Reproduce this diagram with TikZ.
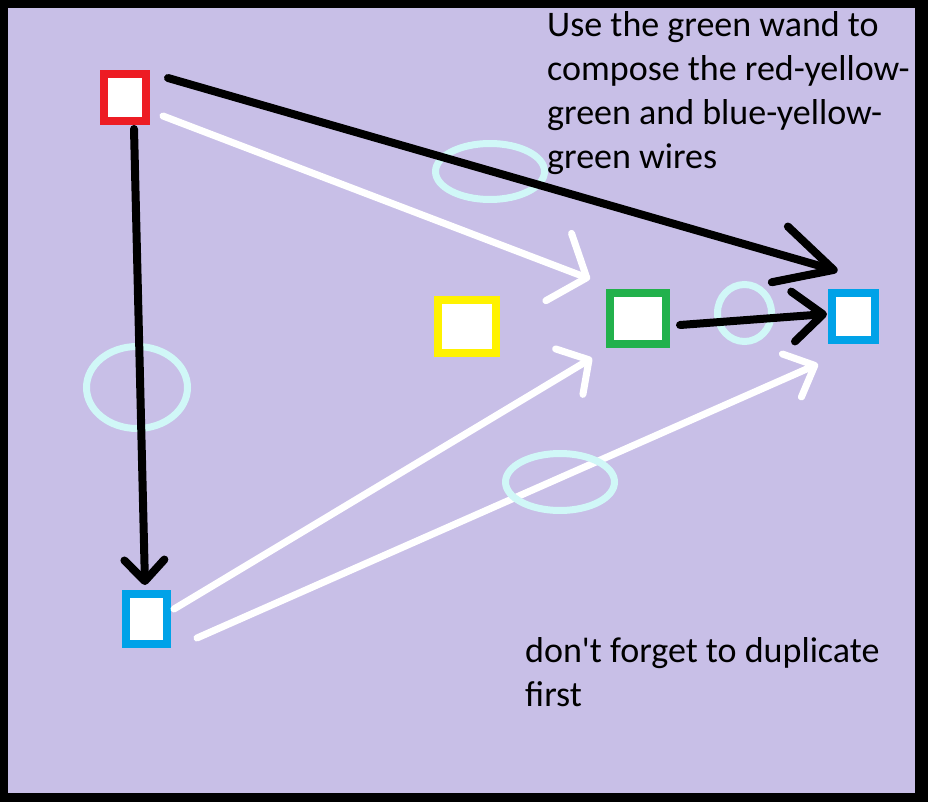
\documentclass[tikz,border=0pt]{standalone}
\usepackage{fontspec}
\setmainfont[Ligatures=TeXOff]{Carlito}
\usetikzlibrary{arrows.meta,positioning}
\definecolor{paintlavender}{HTML}{C8BFE7}
\definecolor{paintred}{HTML}{ED1C24}
\definecolor{paintyellow}{HTML}{FFF200}
\definecolor{paintgreen}{HTML}{22B14C}
\definecolor{paintblue}{HTML}{00A2E8}
\definecolor{paintring}{HTML}{D0F7F7}
\tikzset{
    mybox/.style={rectangle, draw, fill=white, line width=8pt, inner sep=0pt, outer sep=0pt},
    blackwire/.style={draw=black, line width=8pt, line cap=round, line join=round},
    whitewire/.style={draw=white, line width=7pt, line cap=round, line join=round},
    myring/.style={draw=paintring, line width=7pt},
    mylabel/.style={anchor=base west, inner sep=0pt, align=left, font=\fontsize{36}{44}\selectfont}
}

\begin{document}
\begin{tikzpicture}[x=1pt, y=-1pt]
% frame
\fill[black] (0,0) rectangle (928,802);
\fill[paintlavender] (8,8) rectangle (915,793);

% boxes
\node[mybox, draw=paintred, minimum width=42pt, minimum height=47pt] (red) at (125,97.5) {};
\node[mybox, draw=paintyellow, minimum width=58pt, minimum height=53pt] (yellow) at (467,326.5) {};
\node[mybox, draw=paintgreen, minimum width=56pt, minimum height=51pt] (green) at (638,318.5) {};
\node[mybox, draw=paintblue, minimum width=43pt, minimum height=47pt] (blueright) at (853.5,316.5) {};
\node[mybox, draw=paintblue, minimum width=41pt, minimum height=50pt] (bluebottom) at (146.5,619) {};

% white wires
\draw[whitewire, -{Straight Barb[length=30pt, width=72pt, round]}] ([shift={(17,18.5)}]red.east) -- ([shift={(-20,-14)}]green.north west);
\draw[whitewire, -{Straight Barb[length=23pt, width=53pt, round]}] ([shift={(7,-10)}]bluebottom.east) -- ([shift={(-18,14)}]green.south west);
\draw[whitewire, -{Straight Barb[length=25pt, width=47pt, round]}] ([shift={(30,19)}]bluebottom.east) -- ([shift={(-14,24)}]blueright.south west);

% rings
\draw[myring] (490,171.5) ellipse [x radius=54.5pt, y radius=28pt];
\draw[myring] (744.5,313) ellipse [x radius=27pt, y radius=28.5pt];
\draw[myring] (137,387.5) ellipse [x radius=50.5pt, y radius=41pt];
\draw[myring] (560,482) ellipse [x radius=54.5pt, y radius=28.5pt];

% black wires
\draw[blackwire, -{Straight Barb[length=56pt, width=58pt, round]}] ([shift={(22,-19.5)}]red.east) -- ([shift={(-16,-22)}]blueright.north);
\draw[blackwire, -{Straight Barb[length=30pt, width=50pt, round]}] ([shift={(14,6.5)}]green.east) -- ([shift={(-5,-2.5)}]blueright.west);
\draw[blackwire, -{Straight Barb[length=21pt, width=40pt, round]}] ([shift={(9,8)}]red.south) -- ([shift={(-1.5,-9)}]bluebottom.north);

% notes (anchored at the baseline of the last line)
\node[mylabel] (hint) at (547,168.7) {Use the green wand to\\compose the red-yellow-\\green and blue-yellow-\\green wires};
\node[mylabel] (reminder) at (525,706) {don't forget to duplicate\\first};
\end{tikzpicture}
\end{document}
